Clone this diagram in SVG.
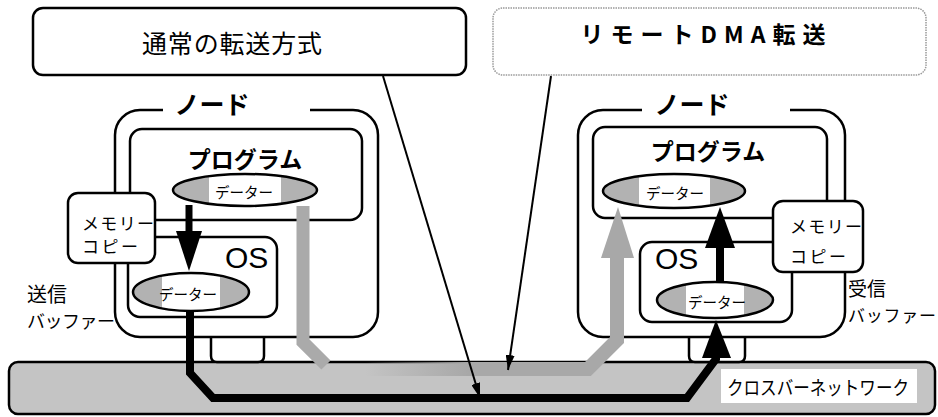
<svg xmlns="http://www.w3.org/2000/svg" width="938" height="417" viewBox="0 0 938 417">
<defs>
<style>
.jp{font-family:"Noto Sans CJK JP","Noto Sans",sans-serif;fill:#000}
.b{font-weight:bold}
.box{fill:#fff;stroke:#000;stroke-width:2.5}
.data{fill:url(#dg);stroke:#000;stroke-width:2.5}
.os{font-family:"Liberation Sans",Arial,sans-serif;font-size:30px;fill:#000}
</style>
<linearGradient id="dg" x1="0" y1="0" x2="1" y2="0">
<stop offset="0" stop-color="#b2b2b2"/><stop offset="0.25" stop-color="#b2b2b2"/>
<stop offset="0.25" stop-color="#fff"/><stop offset="0.75" stop-color="#fff"/>
<stop offset="0.75" stop-color="#b2b2b2"/><stop offset="1" stop-color="#b2b2b2"/>
</linearGradient>
<linearGradient id="gg" gradientUnits="userSpaceOnUse" x1="365" y1="0" x2="468" y2="0">
<stop offset="0" stop-color="#a8a8a8" stop-opacity="0"/><stop offset="1" stop-color="#a8a8a8"/>
</linearGradient>
<marker id="ah" markerUnits="userSpaceOnUse" markerWidth="15" markerHeight="9" refX="15" refY="4.5" orient="auto">
<path d="M0,0 L15,4.5 L0,9 Z" fill="#000"/>
</marker>
</defs>
<rect width="938" height="417" fill="#fff"/>

<g id="crossbar">
<rect x="9" y="362" width="926" height="52" rx="9" fill="#c4c4c4" stroke="#000" stroke-width="2.5"/>
<rect x="721" y="369" width="196" height="34" fill="#fff"/>
<text class="jp" x="727" y="386" font-size="19" dominant-baseline="central" textLength="182" lengthAdjust="spacingAndGlyphs">クロスバーネットワーク</text>
</g>

<g id="label-normal">
<rect x="33" y="8" width="433" height="67" rx="10" class="box" stroke-width="2"/>
<text class="jp" x="232" y="42" font-size="25" text-anchor="middle" dominant-baseline="central" textLength="180">通常の転送方式</text>
</g>

<g id="label-rdma">
<rect x="493" y="8" width="433" height="67" rx="10" fill="#fff" stroke="#999" stroke-width="1.5" stroke-dasharray="1.5 1"/>
<text class="jp b" x="703" y="33" font-size="23" text-anchor="middle" dominant-baseline="central" textLength="245">リモートDMA転送</text>
</g>

<g id="node-left">
<path class="box" d="M211,337 V356 Q211,362 217,362 H258 Q264,362 264,356 V337"/>
<path class="box" d="M163,110 H140 A25,25 0 0 0 115,135 V312 A25,25 0 0 0 140,337 H353 A25,25 0 0 0 378,312 V135 A25,25 0 0 0 353,110 H310"/>
<text class="jp b" x="212" y="103" font-size="25" text-anchor="middle" dominant-baseline="central">ノード</text>
<rect class="box" x="130" y="129" width="232" height="91" rx="12"/>
<text class="jp b" x="245" y="158" font-size="23" text-anchor="middle" dominant-baseline="central">プログラム</text>
<rect class="box" x="128" y="237" width="149" height="80" rx="12"/>
<text class="os" x="225" y="268">OS</text>
<rect class="box" x="68" y="193" width="87" height="70" rx="10"/>
<text class="jp" x="82" y="222" font-size="17" dominant-baseline="central" textLength="72">メモリー</text>
<text class="jp" x="82" y="245" font-size="17" dominant-baseline="central" textLength="56">コピー</text>
<text class="jp" x="27" y="293" font-size="20" dominant-baseline="central">送信</text>
<text class="jp" x="27" y="320" font-size="18" dominant-baseline="central" textLength="88">バッファー</text>
<ellipse class="data" cx="245" cy="190" rx="72" ry="16"/>
<text class="jp" x="244" y="191" font-size="15" text-anchor="middle" dominant-baseline="central" textLength="58" lengthAdjust="spacingAndGlyphs">データー</text>
<ellipse class="data" cx="191" cy="292" rx="58" ry="19"/>
<text class="jp" x="188" y="293" font-size="15" text-anchor="middle" dominant-baseline="central" textLength="58" lengthAdjust="spacingAndGlyphs">データー</text>
</g>

<g id="node-right">
<path class="box" d="M689,337 V356 Q689,362 695,362 H739 Q745,362 745,356 V337"/>
<path class="box" d="M642,110 H603 A25,25 0 0 0 578,135 V312 A25,25 0 0 0 603,337 H820 A25,25 0 0 0 845,312 V135 A25,25 0 0 0 820,110 H790"/>
<text class="jp b" x="692" y="103" font-size="25" text-anchor="middle" dominant-baseline="central">ノード</text>
<rect class="box" x="593" y="127" width="234" height="91" rx="12"/>
<text class="jp b" x="708" y="150" font-size="23" text-anchor="middle" dominant-baseline="central">プログラム</text>
<rect class="box" x="640" y="242" width="152" height="80" rx="12"/>
<text class="os" x="655" y="269">OS</text>
<rect class="box" x="773" y="201" width="90" height="71" rx="10"/>
<text class="jp" x="790" y="225" font-size="17" dominant-baseline="central" textLength="72">メモリー</text>
<text class="jp" x="790" y="255" font-size="17" dominant-baseline="central" textLength="56">コピー</text>
<text class="jp" x="848" y="287" font-size="19" dominant-baseline="central">受信</text>
<text class="jp" x="848" y="314" font-size="17" dominant-baseline="central" textLength="88">バッファー</text>
<ellipse class="data" cx="674" cy="191" rx="71" ry="17"/>
<text class="jp" x="675" y="192" font-size="15" text-anchor="middle" dominant-baseline="central" textLength="58" lengthAdjust="spacingAndGlyphs">データー</text>
<ellipse class="data" cx="715" cy="300" rx="58" ry="18"/>
<text class="jp" x="717" y="301" font-size="15" text-anchor="middle" dominant-baseline="central" textLength="58" lengthAdjust="spacingAndGlyphs">データー</text>
</g>

<g id="connectors">
<path d="M303,206 V342 L326,365" fill="none" stroke="#aaa" stroke-width="13"/>
<path d="M365,369 H588 L617,340 V255" fill="none" stroke="url(#gg)" stroke-width="14"/>
<polygon points="601,258 634,258 618,207" fill="#a8a8a8"/>
<line x1="189" y1="205" x2="189" y2="234" stroke="#000" stroke-width="7"/>
<polygon points="176,231 202,231 189,271" fill="#000"/>
<path d="M190,310 V373 L213,398 H687 L716,359 V354" fill="none" stroke="#000" stroke-width="8"/>
<polygon points="702,358 731,358 716,320" fill="#000"/>
<line x1="720" y1="283" x2="720" y2="244" stroke="#000" stroke-width="8"/>
<polygon points="705,248 735,248 720,207" fill="#000"/>
<line x1="383" y1="76" x2="480" y2="398" stroke="#000" stroke-width="2" marker-end="url(#ah)"/>
<line x1="551" y1="76" x2="508" y2="370" stroke="#000" stroke-width="2" marker-end="url(#ah)"/>
</g>
</svg>
